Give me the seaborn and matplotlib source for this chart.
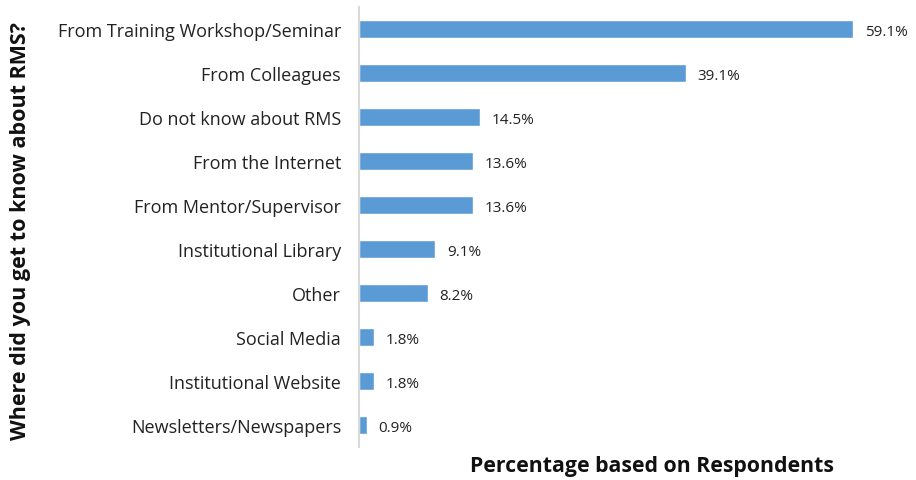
import pandas as pd
import seaborn as sns
from matplotlib import pyplot as plt

sources = ['From Training Workshop/Seminar', 'From Colleagues', 'Do not know about RMS',
           'From the Internet', 'From Mentor/Supervisor', 'Institutional Library', 'Other',
           'Social Media', 'Institutional Website', 'Newsletters/Newspapers']
percent = [59.1, 39.1, 14.5, 13.6, 13.6, 9.1, 8.2, 1.8, 1.8, 0.9]

df = pd.DataFrame({'source': sources, 'percent': percent})

sns.set_style('white')
plt.rcParams['font.family'] = ['Open Sans', 'DejaVu Sans']

fig = plt.figure(figsize=(9.16, 4.81), dpi=100)
ax = fig.add_axes([0.392, 0.0686, 0.6025, 0.9148])
sns.barplot(data=df, x='percent', y='source', color='#5B9BD5', saturation=1,
            width=0.41, ax=ax)

for i, v in enumerate(percent):
    ax.text(v + 1.4, i + 0.05, f'{v}%', va='center', ha='left', fontsize=11, color='#222222')

ax.set_xlim(0, 66)
ax.set_ylim(9.5, -0.5)
ax.set_xticks([])
ax.tick_params(axis='y', length=0, labelsize=13, pad=13, labelcolor='#222222')
for s in ['top', 'right', 'bottom']:
    ax.spines[s].set_visible(False)
ax.spines['left'].set_color('#D9D9D9')
ax.spines['left'].set_linewidth(1.5)
ax.set_ylabel('')
ax.set_xlabel('')
fig.text(0.712, 0.03, 'Percentage based on Respondents', ha='center', va='center',
         fontsize=15.3, fontweight='bold', color='#111111')
fig.text(0.022, 0.52, 'Where did you get to know about RMS?', ha='center', va='center',
         rotation=90, fontsize=15.5, fontweight='bold', color='#111111')

plt.savefig('out.png', dpi=100)
